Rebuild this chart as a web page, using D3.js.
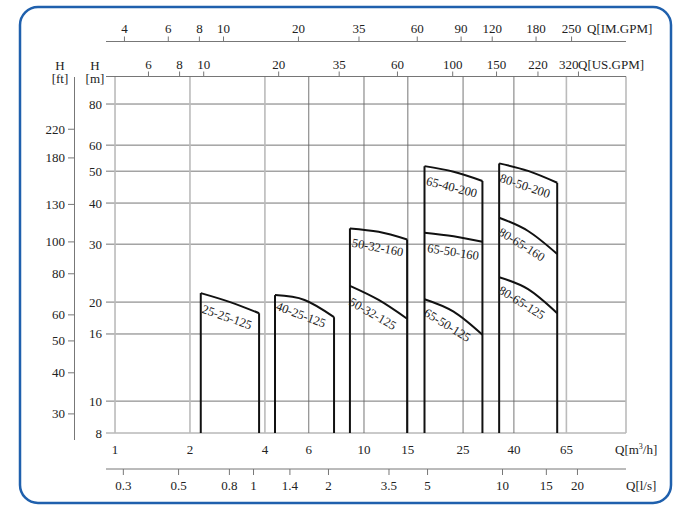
<!DOCTYPE html>
<html>
<head>
<meta charset="utf-8">
<script src="https://cdn.jsdelivr.net/npm/d3@7"></script>
<style>
body { margin: 0; background: #fff; }
text { font-family: "Liberation Serif", "Times New Roman", serif; fill: #222; }
</style>
</head>
<body>
<script>
// axis ticks
var qTicks = [1, 2, 4, 6, 10, 15, 25, 40, 65],
    lightQ = [1, 2, 4, 65],
    hTicks = [8, 10, 16, 20, 30, 40, 50, 60, 80],
    ftTicks = [30, 40, 50, 60, 80, 100, 130, 180, 220],
    imTicks = [4, 6, 8, 10, 20, 35, 60, 90, 120, 180, 250],
    usTicks = [6, 8, 10, 20, 35, 60, 100, 150, 220, 320],
    lsTicks = [0.3, 0.5, 0.8, 1, 1.4, 2, 3.5, 5, 10, 15, 20];

// pump curves: Q [m3/h] and H [m] at left end, middle, right end
var models = ['25-25-125', '40-25-125', '50-32-125', '50-32-160', '65-50-125',
              '65-50-160', '65-40-200', '80-65-125', '80-65-160', '80-50-200'];
var curveQ = [
    [2.21, 2.9, 3.79],
    [4.39, 5.77, 7.58],
    [8.78, 11.45, 14.9],
    [8.78, 11.45, 14.9],
    [17.5, 22.9, 29.9],
    [17.5, 22.9, 29.9],
    [17.5, 22.9, 29.9],
    [34.9, 45.6, 59.7],
    [34.9, 45.6, 59.7],
    [34.9, 45.6, 59.7]
];
var curveH = [
    [21.3, 20.0, 18.5],
    [21.0, 20.3, 18.0],
    [22.4, 20.3, 17.8],
    [33.5, 32.7, 31.0],
    [20.4, 18.7, 15.9],
    [32.5, 31.7, 30.5],
    [51.8, 49.8, 46.7],
    [23.8, 21.9, 18.5],
    [36.1, 32.9, 28.0],
    [52.8, 50.1, 46.1]
];

// unit conversions from m3/h and m
var IM = 3.6662, US = 4.4029, LS = 1 / 3.6, FT = 3.2808;

var width = 699, height = 511;
var plotLeft = 106, plotRight = 626, plotTop = 76.5, plotBottom = 433;

var svg = d3.select('body').append('svg')
    .attr('width', width)
    .attr('height', height);

var x = d3.scaleLog().domain([0.92, 112.8]).range([plotLeft, plotRight]);
var y = d3.scaleLog().domain([8, 97]).range([plotBottom, plotTop]);

// frame
svg.append('rect')
    .attr('x', 20).attr('y', 7)
    .attr('width', 651).attr('height', 496)
    .attr('rx', 18).attr('ry', 18)
    .attr('fill', 'none')
    .attr('stroke', '#1f60ad')
    .attr('stroke-width', 2.5);

var grid = svg.append('g');

// horizontal grid (H in m)
grid.selectAll('line.h')
    .data(hTicks)
    .enter().append('line')
    .attr('class', 'h')
    .attr('x1', plotLeft).attr('x2', plotRight)
    .attr('y1', function (d) { return y(d); })
    .attr('y2', function (d) { return y(d); })
    .attr('stroke', function (d) { return d == 8 ? '#888' : '#666'; })
    .attr('stroke-width', 0.9);

// vertical grid (Q in m3/h) + right edge
grid.selectAll('line.v')
    .data(qTicks.concat([112.8]))
    .enter().append('line')
    .attr('class', 'v')
    .attr('x1', function (d) { return x(d); })
    .attr('x2', function (d) { return x(d); })
    .attr('y1', plotTop).attr('y2', plotBottom)
    .attr('stroke', function (d) { return lightQ.indexOf(d) >= 0 || d > 100 ? '#bbb' : '#666'; })
    .attr('stroke-width', function (d) { return lightQ.indexOf(d) >= 0 || d > 100 ? 1.6 : 0.9; });

// top line (US GPM axis)
grid.append('line')
    .attr('x1', plotLeft).attr('x2', plotRight)
    .attr('y1', plotTop).attr('y2', plotTop)
    .attr('stroke', '#666').attr('stroke-width', 0.9);

// H [m] labels
svg.selectAll('text.hm')
    .data(hTicks)
    .enter().append('text')
    .attr('class', 'hm')
    .attr('x', 102)
    .attr('y', function (d) { return y(d) + 4.5; })
    .attr('text-anchor', 'end')
    .attr('font-size', 13)
    .text(function (d) { return d; });

// H [ft] axis
var ftAxis = svg.append('g');
ftAxis.append('line')
    .attr('x1', 74.5).attr('x2', 74.5)
    .attr('y1', 77).attr('y2', 440)
    .attr('stroke', '#777').attr('stroke-width', 1);
ftAxis.selectAll('line.t')
    .data(ftTicks)
    .enter().append('line')
    .attr('class', 't')
    .attr('x1', 68).attr('x2', 74.5)
    .attr('y1', function (d) { return y(d / FT); })
    .attr('y2', function (d) { return y(d / FT); })
    .attr('stroke', '#777');
ftAxis.selectAll('text')
    .data(ftTicks)
    .enter().append('text')
    .attr('x', 65)
    .attr('y', function (d) { return y(d / FT) + 4.5; })
    .attr('text-anchor', 'end')
    .attr('font-size', 13)
    .text(function (d) { return d; });

// H titles
[[60, 'H', 70], [60, '[ft]', 83], [95, 'H', 70], [95, '[m]', 83]].forEach(function (t) {
    svg.append('text')
        .attr('x', t[0]).attr('y', t[2])
        .attr('text-anchor', 'middle')
        .attr('font-size', 13)
        .text(t[1]);
});

// top IM.GPM axis
var imY = 41.5;
var imAxis = svg.append('g');
imAxis.append('line')
    .attr('x1', plotLeft).attr('x2', plotRight)
    .attr('y1', imY).attr('y2', imY)
    .attr('stroke', '#777');
imAxis.selectAll('line.t')
    .data(imTicks)
    .enter().append('line')
    .attr('class', 't')
    .attr('x1', function (d) { return x(d / IM); })
    .attr('x2', function (d) { return x(d / IM); })
    .attr('y1', imY - 5).attr('y2', imY)
    .attr('stroke', '#777');
imAxis.selectAll('text')
    .data(imTicks)
    .enter().append('text')
    .attr('x', function (d) { return x(d / IM); })
    .attr('y', 33)
    .attr('text-anchor', 'middle')
    .attr('font-size', 13)
    .text(function (d) { return d; });
imAxis.append('text')
    .attr('x', 587).attr('y', 33)
    .attr('font-size', 13)
    .text('Q[IM.GPM]');

// US.GPM axis (on the top edge of the plot)
var usAxis = svg.append('g');
usAxis.selectAll('line.t')
    .data(usTicks)
    .enter().append('line')
    .attr('class', 't')
    .attr('x1', function (d) { return x(d / US); })
    .attr('x2', function (d) { return x(d / US); })
    .attr('y1', plotTop - 5).attr('y2', plotTop)
    .attr('stroke', '#777');
usAxis.selectAll('text')
    .data(usTicks)
    .enter().append('text')
    .attr('x', function (d) { return x(d / US); })
    .attr('y', 69)
    .attr('text-anchor', function (d, i) { return i == usTicks.length - 1 ? 'end' : 'middle'; })
    .attr('font-size', 13)
    .text(function (d) { return d; });
usAxis.append('text')
    .attr('x', 578).attr('y', 69)
    .attr('font-size', 13)
    .text('Q[US.GPM]');

// bottom m3/h labels
svg.selectAll('text.q')
    .data(qTicks)
    .enter().append('text')
    .attr('class', 'q')
    .attr('x', function (d) { return x(d); })
    .attr('y', 454)
    .attr('text-anchor', 'middle')
    .attr('font-size', 13)
    .text(function (d) { return d; });
var qTitle = svg.append('text')
    .attr('x', 615).attr('y', 454)
    .attr('font-size', 13);
qTitle.append('tspan').text('Q[m');
qTitle.append('tspan').attr('font-size', 8).attr('dy', -5).text('3');
qTitle.append('tspan').attr('dy', 5).text('/h]');

// l/s axis
var lsY = 469;
var lsAxis = svg.append('g');
lsAxis.append('line')
    .attr('x1', plotLeft).attr('x2', plotRight)
    .attr('y1', lsY).attr('y2', lsY)
    .attr('stroke', '#777');
lsAxis.selectAll('line.t')
    .data(lsTicks)
    .enter().append('line')
    .attr('class', 't')
    .attr('x1', function (d) { return x(d / LS); })
    .attr('x2', function (d) { return x(d / LS); })
    .attr('y1', lsY).attr('y2', lsY + 6)
    .attr('stroke', '#777');
lsAxis.selectAll('text')
    .data(lsTicks)
    .enter().append('text')
    .attr('x', function (d) { return x(d / LS); })
    .attr('y', 490)
    .attr('text-anchor', 'middle')
    .attr('font-size', 13)
    .text(function (d) { return d; });
lsAxis.append('text')
    .attr('x', 626).attr('y', 490)
    .attr('font-size', 13)
    .text('Q[l/s]');

// pump families: frame verticals from H=8 up to the highest curve
var families = d3.groups(d3.range(models.length), function (i) { return models[i].split('-')[0]; });
var curves = svg.append('g');

families.forEach(function (f) {
    var idx = f[1];
    var qL = curveQ[idx[0]][0], qR = curveQ[idx[0]][2];
    var hL = d3.max(idx, function (i) { return curveH[i][0]; });
    var hR = d3.max(idx, function (i) { return curveH[i][2]; });
    [[qL, hL], [qR, hR]].forEach(function (p) {
        curves.append('line')
            .attr('x1', x(p[0])).attr('x2', x(p[0]))
            .attr('y1', y(8)).attr('y2', y(p[1]))
            .attr('stroke', '#111')
            .attr('stroke-width', 2);
    });
});

var line = d3.line()
    .x(function (d) { return x(d[0]); })
    .y(function (d) { return y(d[1]); })
    .curve(d3.curveNatural);

models.forEach(function (m, i) {
    var pts = curveQ[i].map(function (q, k) { return [q, curveH[i][k]]; });
    curves.append('path')
        .attr('d', line(pts))
        .attr('fill', 'none')
        .attr('stroke', '#111')
        .attr('stroke-width', 2);

    // label under the curve, turned along its chord
    var a = Math.atan2(y(pts[2][1]) - y(pts[0][1]), x(pts[2][0]) - x(pts[0][0])) * 180 / Math.PI;
    curves.append('text')
        .attr('transform', 'translate(' + (x(pts[1][0]) + 2) + ',' + y(pts[1][1]) + ') rotate(' + a + ')')
        .attr('y', 20)
        .attr('text-anchor', 'middle')
        .attr('font-size', 12.5)
        .text(m);
});
</script>
</body>
</html>
